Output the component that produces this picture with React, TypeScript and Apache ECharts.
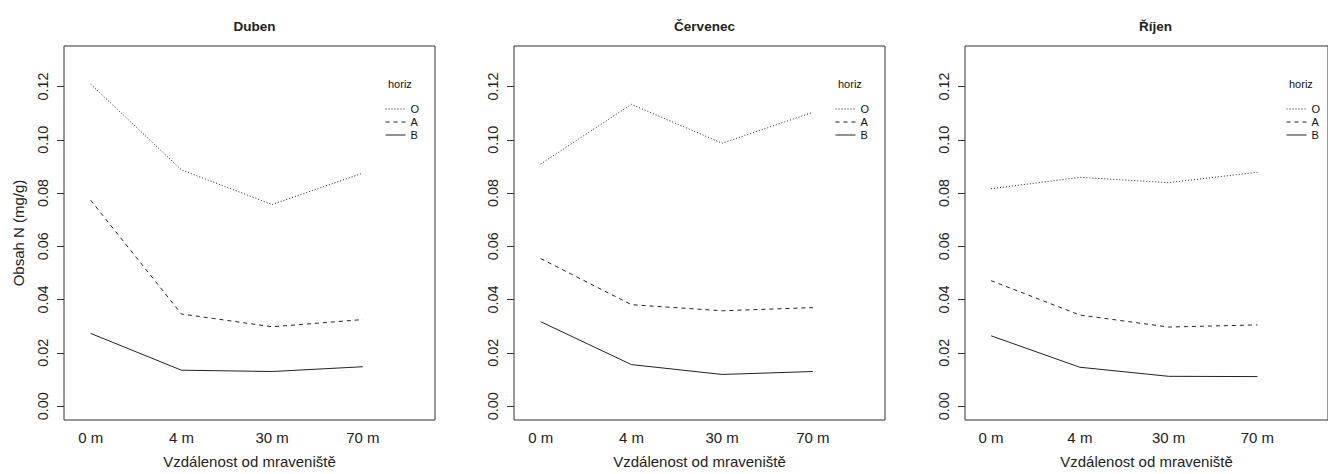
import React, { useEffect, useRef } from "react";
import * as echarts from "echarts";

// ---- data ----
const categories = ["0 m", "4 m", "30 m", "70 m"];
const panelTitles = ["Duben", "Červenec", "Říjen"];
const horizons = ["O", "A", "B"];
const yTicks = [0, 0.02, 0.04, 0.06, 0.08, 0.1, 0.12];

const dubenO = [0.1209, 0.0887, 0.0757, 0.0875];
const dubenA = [0.0773, 0.0346, 0.0298, 0.0325];
const dubenB = [0.0273, 0.0135, 0.013, 0.0148];

const cervenecO = [0.0909, 0.1133, 0.0987, 0.1103];
const cervenecA = [0.0554, 0.0381, 0.0358, 0.037];
const cervenecB = [0.0317, 0.0156, 0.0119, 0.013];

const rijenO = [0.0816, 0.0859, 0.0839, 0.0878];
const rijenA = [0.0471, 0.0342, 0.0297, 0.0305];
const rijenB = [0.0264, 0.0146, 0.0112, 0.0111];

const panelData = [
  [dubenO, dubenA, dubenB],
  [cervenecO, cervenecA, cervenecB],
  [rijenO, rijenA, rijenB],
];

const FONT = "'Liberation Sans', Arial, sans-serif";
const gridLefts = [64, 514, 965];
const gridWidth = 371;
const gridTop = 46;
const gridHeight = 375;
const lineTypes: any[] = [[1, 2], [4, 4], "solid"];
const INK = "#222";

export default function App() {
  const ref = useRef<HTMLDivElement>(null);
  useEffect(() => {
    if (!ref.current) return;
    const chart = echarts.init(ref.current, null, { renderer: "svg" });

    const grid = gridLefts.map((left) => ({
      left,
      top: gridTop,
      width: gridWidth,
      height: gridHeight,
      show: true,
      borderColor: "#333",
      borderWidth: 1,
      backgroundColor: "transparent",
      containLabel: false,
    }));

    const xAxis = gridLefts.map((_, i) => ({
      type: "value",
      gridIndex: i,
      min: 0.706,
      max: 4.795,
      name: "Vzdálenost od mraveniště",
      nameLocation: "middle",
      nameGap: 34,
      nameTextStyle: { fontFamily: FONT, fontSize: 15, color: INK },
      axisLine: { show: false },
      axisTick: { show: false },
      splitLine: { show: false },
      axisLabel: {
        customValues: [1, 2, 3, 4],
        formatter: (v: number) => categories[Math.round(v) - 1] ?? "",
        fontFamily: FONT,
        fontSize: 15,
        color: INK,
        margin: 10,
      },
    }));

    const yAxis = gridLefts.map((_, i) => ({
      type: "value",
      gridIndex: i,
      min: -0.0052,
      max: 0.1352,
      name: i === 0 ? "Obsah N (mg/g)" : "",
      nameLocation: "middle",
      nameGap: 38,
      nameTextStyle: { fontFamily: FONT, fontSize: 15, color: INK },
      axisLine: { show: false },
      splitLine: { show: false },
      axisTick: {
        show: true,
        length: 7,
        customValues: yTicks,
        lineStyle: { color: "#333", width: 1 },
      },
      axisLabel: {
        customValues: yTicks,
        rotate: 90,
        margin: 14,
        formatter: (v: number) => v.toFixed(2),
        fontFamily: FONT,
        fontSize: 14.4,
        color: INK,
      },
    }));

    const series: any[] = [];
    panelData.forEach((rows, p) => {
      rows.forEach((vals, h) => {
        series.push({
          type: "line",
          name: horizons[h],
          xAxisIndex: p,
          yAxisIndex: p,
          symbol: "none",
          data: vals.map((v, k) => [k + 1, v]),
          lineStyle: { color: INK, width: 1, type: lineTypes[h] },
          itemStyle: { color: INK },
        });
      });
    });

    const titles: any[] = [];
    gridLefts.forEach((left, i) => {
      titles.push({
        text: panelTitles[i],
        left: left + gridWidth / 2,
        textAlign: "center",
        top: 13,
        textStyle: { fontFamily: FONT, fontSize: 13.5, fontWeight: "bold", color: INK, lineHeight: 16 },
      });
      titles.push({
        text: "horiz",
        left: left + 319,
        top: 72,
        textStyle: { fontFamily: FONT, fontSize: 11, fontWeight: "normal", color: "#111", lineHeight: 14 },
      });
    });

    const legend = gridLefts.map((left) => ({
      data: horizons,
      orient: "vertical",
      left: left + 321,
      top: 103,
      itemWidth: 20,
      itemHeight: 8,
      itemGap: 1,
      padding: 0,
      selectedMode: false,
      itemStyle: { opacity: 0 },
      lineStyle: { width: 1 },
      textStyle: { fontFamily: FONT, fontSize: 11, color: "#111", lineHeight: 12 },
    }));

    chart.setOption({
      animation: false,
      backgroundColor: "#fff",
      title: titles,
      grid,
      xAxis,
      yAxis,
      legend,
      series,
    });
    return () => chart.dispose();
  }, []);

  return (
    <div
      ref={ref}
      style={{ position: "absolute", left: 0, top: 0, width: 1328, height: 474 }}
    />
  );
}
